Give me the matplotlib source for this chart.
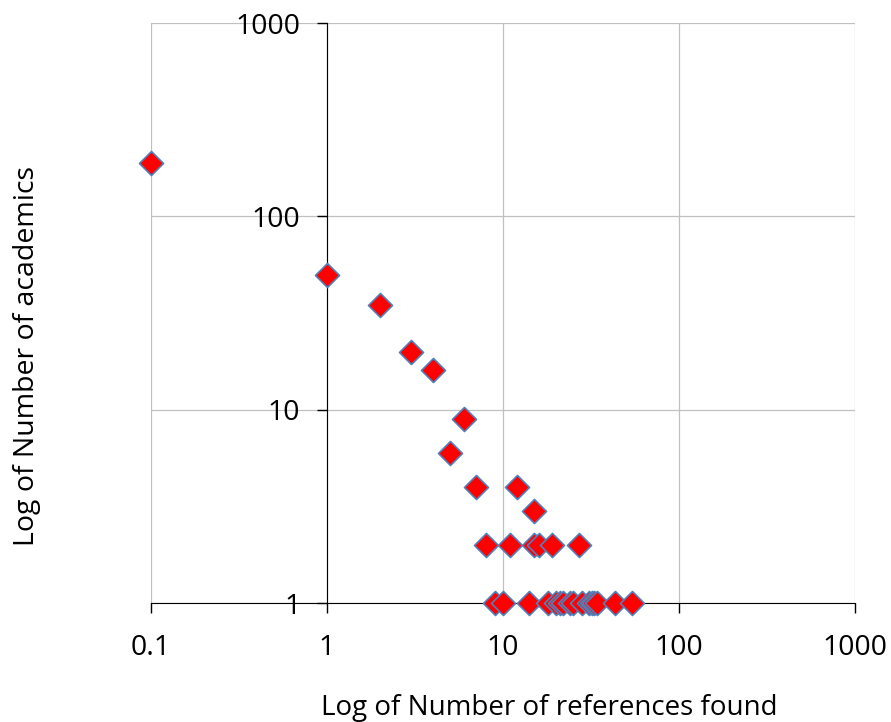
import matplotlib.pyplot as plt
from matplotlib.ticker import FixedLocator, FixedFormatter

# references found vs number of academics
refs = [0.1, 1, 2, 3, 4, 6, 5, 7, 12, 15,
        8, 11, 15, 16, 19, 27,
        9, 10, 14, 18, 20, 21, 22, 24, 25, 28, 31, 32, 33, 34, 43, 54]
academics = [190, 50, 35, 20, 16, 9, 6, 4, 4, 3,
             2, 2, 2, 2, 2, 2,
             1, 1, 1, 1, 1, 1, 1, 1, 1, 1, 1, 1, 1, 1, 1, 1]

x_ticks = [0.1, 1, 10, 100, 1000]
x_labels = ['0.1', '1', '10', '100', '1000']
y_ticks = [1, 10, 100, 1000]
y_labels = ['1', '10', '100', '1000']

plt.rcParams['font.family'] = ['Open Sans', 'DejaVu Sans']

fig = plt.figure(figsize=(8.91, 7.22), dpi=100)
ax = fig.add_axes([0.1695, 0.1648, 0.9596 - 0.1695, 0.968 - 0.1648])

ax.set_xscale('log')
ax.set_yscale('log')
ax.set_xlim(0.1, 1000)
ax.set_ylim(1, 1000)

ax.xaxis.set_major_locator(FixedLocator(x_ticks))
ax.xaxis.set_major_formatter(FixedFormatter(x_labels))
ax.yaxis.set_major_locator(FixedLocator(y_ticks))
ax.yaxis.set_major_formatter(FixedFormatter(y_labels))
ax.xaxis.set_minor_locator(FixedLocator([]))
ax.yaxis.set_minor_locator(FixedLocator([]))

ax.grid(True, color='#c0c0c0', linewidth=0.9)
ax.set_axisbelow(True)

ax.spines['left'].set_position(('data', 1))
ax.spines['left'].set_color('black')
ax.spines['bottom'].set_color('black')
ax.spines['top'].set_visible(False)
ax.spines['right'].set_visible(False)

ax.tick_params(axis='x', direction='out', length=7.2, width=1, pad=15, labelsize=20.5)
ax.tick_params(axis='y', direction='out', length=7.2, width=1, pad=12, labelsize=20.5)

ax.scatter(refs, academics, marker='D', s=150, c='#ff0000',
           edgecolors='#4f81bd', linewidths=1.2, zorder=3, clip_on=False)

fig.text(0.617, 0.0097, 'Log of Number of references found', fontsize=20,
         ha='center', va='baseline')
fig.text(0.030, 0.507, 'Log of Number of academics', fontsize=20.5,
         rotation=90, ha='center', va='center')

plt.savefig('out.png', dpi=100)
